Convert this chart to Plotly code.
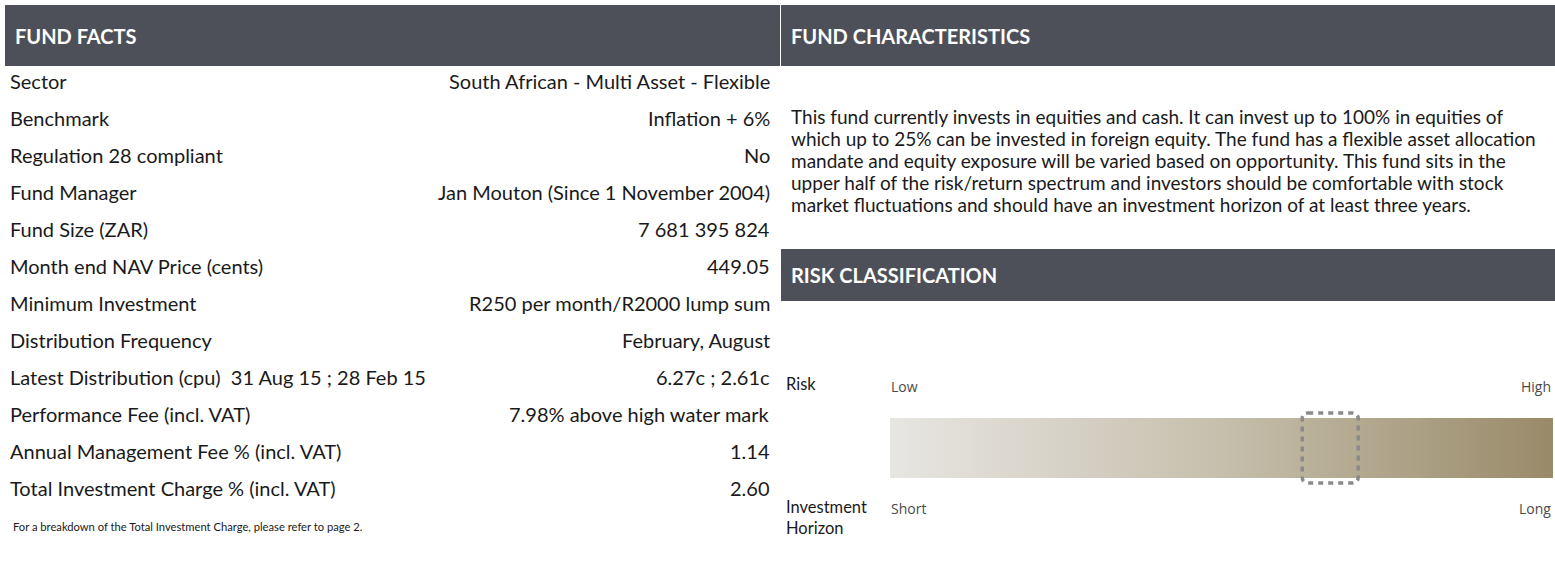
"""Fund fact sheet panel: fund facts table, characteristics text and risk scale."""

import plotly.graph_objects as go

W, H = 1555, 562

fact_labels = [
    "Sector",
    "Benchmark",
    "Regulation 28 compliant",
    "Fund Manager",
    "Fund Size (ZAR)",
    "Month end NAV Price (cents)",
    "Minimum Investment",
    "Distribution Frequency",
    "Latest Distribution (cpu)  31 Aug 15 ; 28 Feb 15",
    "Performance Fee (incl. VAT)",
    "Annual Management Fee % (incl. VAT)",
    "Total Investment Charge % (incl. VAT)",
]
fact_values = [
    "South African - Multi Asset - Flexible",
    "Inflation + 6%",
    "No",
    "Jan Mouton (Since 1 November 2004)",
    "7 681 395 824",
    "449.05",
    "R250 per month/R2000 lump sum",
    "February, August",
    "6.27c ; 2.61c",
    "7.98% above high water mark",
    "1.14",
    "2.60",
]
footnote = "For a breakdown of the Total Investment Charge, please refer to page 2."

characteristics_lines = [
    "This fund currently invests in equities and cash. It can invest up to 100% in equities of",
    "which up to 25% can be invested in foreign equity. The fund has a flexible asset allocation",
    "mandate and equity exposure will be varied based on opportunity. This fund sits in the",
    "upper half of the risk/return spectrum and investors should be comfortable with stock",
    "market fluctuations and should have an investment horizon of at least three years.",
]

# where the fund sits on the low -> high risk scale (0..1)
risk_position = 0.664
risk_ends = ["Low", "High"]
horizon_ends = ["Short", "Long"]

HEADER = "#4d5058"
TEXT = "#1a1a1a"
BODY_FONT = "Lato"

fig = go.Figure()

# section header bars
headers = [
    ("FUND FACTS", 5, 780, 5, 66),
    ("FUND CHARACTERISTICS", 781, 1555, 5, 66),
    ("RISK CLASSIFICATION", 781, 1555, 249, 301),
]
shapes = []
annotations = []
for title, x0, x1, y0, y1 in headers:
    shapes.append(dict(type="rect", xref="x", yref="y", x0=x0, x1=x1, y0=y0, y1=y1,
                       fillcolor=HEADER, line=dict(width=0), layer="below"))
    annotations.append(dict(x=x0 + 8, y=(y0 + y1) / 2, text="<b>%s</b>" % title,
                            xanchor="left", yanchor="middle", showarrow=False,
                            font=dict(family=BODY_FONT, size=20, color="white")))

# fund facts rows
row0, row_step = 81, 37
for i, (lab, val) in enumerate(zip(fact_labels, fact_values)):
    y = row0 + i * row_step
    annotations.append(dict(x=8, y=y, text=lab, xanchor="left", yanchor="middle",
                            showarrow=False, font=dict(family=BODY_FONT, size=20, color=TEXT)))
    annotations.append(dict(x=772, y=y, text=val, xanchor="right", yanchor="middle",
                            showarrow=False, font=dict(family=BODY_FONT, size=20, color=TEXT)))
annotations.append(dict(x=11, y=526, text=footnote, xanchor="left", yanchor="middle",
                        showarrow=False, font=dict(family=BODY_FONT, size=11.2, color=TEXT)))

# characteristics paragraph
for i, line in enumerate(characteristics_lines):
    annotations.append(dict(x=789, y=116 + i * 22, text=line, xanchor="left", yanchor="middle",
                            showarrow=False, font=dict(family=BODY_FONT, size=19, color=TEXT)))

# risk scale
bar_x0, bar_x1, bar_y0, bar_y1 = 890, 1553, 418, 478
fig.add_trace(go.Scatter(
    x=[bar_x0, bar_x1, bar_x1, bar_x0, bar_x0],
    y=[bar_y0, bar_y0, bar_y1, bar_y1, bar_y0],
    mode="lines", fill="toself", line=dict(width=0), hoverinfo="skip", showlegend=False,
    fillgradient=dict(type="horizontal",
                      colorscale=[[0, "#e8e6e3"], [0.5, "#c6bfac"], [1, "#998a69"]]),
))

cx = bar_x0 + risk_position * (bar_x1 - bar_x0)
bx0, bx1, by0, by1, r = cx - 28, cx + 28, 413, 483, 6
path = (f"M {bx0 + r},{by0} L {bx1 - r},{by0} Q {bx1},{by0} {bx1},{by0 + r} "
        f"L {bx1},{by1 - r} Q {bx1},{by1} {bx1 - r},{by1} L {bx0 + r},{by1} "
        f"Q {bx0},{by1} {bx0},{by1 - r} L {bx0},{by0 + r} Q {bx0},{by0} {bx0 + r},{by0} Z")
shapes.append(dict(type="path", xref="x", yref="y", path=path,
                   line=dict(color="#8a8a8a", width=3.5, dash="5px,5px")))

light = dict(family="Open Sans", size=14, color="#4a4a4a")
annotations += [
    dict(x=784, y=384, text="Risk", xanchor="left", yanchor="middle", showarrow=False,
         font=dict(family=BODY_FONT, size=16.5, color=TEXT)),
    dict(x=784, y=517, text="Investment<br>Horizon", xanchor="left", yanchor="middle",
         showarrow=False, align="left", font=dict(family=BODY_FONT, size=16.5, color=TEXT)),
    dict(x=889, y=386, text=risk_ends[0], xanchor="left", yanchor="middle", showarrow=False, font=light),
    dict(x=1553, y=386, text=risk_ends[1], xanchor="right", yanchor="middle", showarrow=False, font=light),
    dict(x=889, y=508, text=horizon_ends[0], xanchor="left", yanchor="middle", showarrow=False, font=light),
    dict(x=1553, y=508, text=horizon_ends[1], xanchor="right", yanchor="middle", showarrow=False, font=light),
]

fig.update_layout(
    width=W,
    height=H,
    margin=dict(l=0, r=0, t=0, b=0),
    paper_bgcolor="white",
    plot_bgcolor="white",
    shapes=shapes,
    annotations=annotations,
    showlegend=False,
)
fig.update_xaxes(range=[0, W], visible=False, fixedrange=True)
fig.update_yaxes(range=[H, 0], visible=False, fixedrange=True)

fig.write_html(
    "out.html",
    config={"displayModeBar": False},
    post_script="document.body.style.margin='0';document.body.style.overflow='hidden';",
)
